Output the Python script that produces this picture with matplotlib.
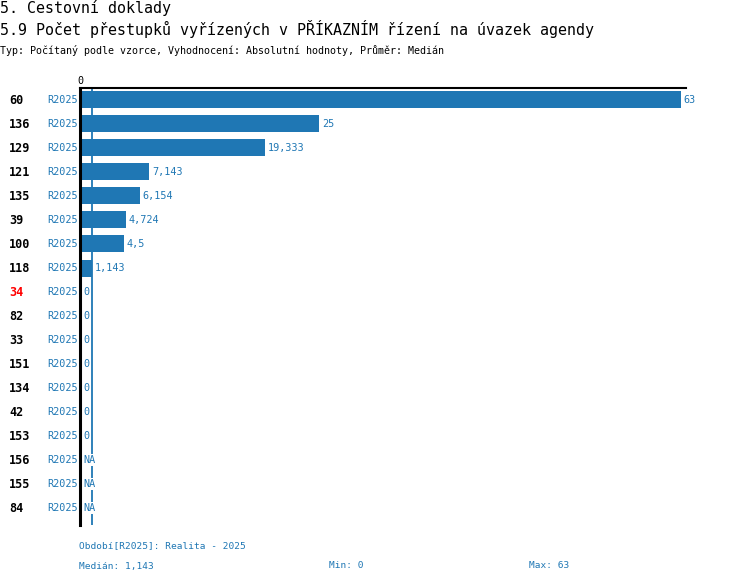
import numpy as np
import matplotlib
matplotlib.use("Agg")
import matplotlib.pyplot as plt

plt.rcParams["font.family"] = ["DejaVu Sans Mono"]

# Row data (top to bottom)
codes = ["60", "136", "129", "121", "135", "39", "100", "118", "34",
         "82", "33", "151", "134", "42", "153", "156", "155", "84"]
values = [63, 25, 19.333, 7.143, 6.154, 4.724, 4.5, 1.143, 0,
          0, 0, 0, 0, 0, 0, np.nan, np.nan, np.nan]
labels = ["63", "25", "19,333", "7,143", "6,154", "4,724", "4,5", "1,143", "0",
          "0", "0", "0", "0", "0", "0", "NA", "NA", "NA"]
highlight = "34"
period = "R2025"
median, vmin, vmax = 1.143, 0, 63

blue = "#1f77b4"
W, H = 750, 584
fig = plt.figure(figsize=(W / 100, H / 100), dpi=100)

def fx(px):
    return px / W

def fy(py):
    return 1 - py / H

# axes: left 81px, right 686px, top 88px, bottom 525px
ax = fig.add_axes([fx(81), fy(525), fx(686 - 81), (525 - 88) / H])
n = len(codes)
ypos = np.arange(n)
ax.set_xlim(0, 63 * 605 / 600)
ax.set_ylim(n - 1 + 17 / 24, -12 / 24)
for s in ax.spines.values():
    s.set_visible(False)
ax.set_xticks([])
ax.set_yticks([])

ax.axvline(median, color=blue, lw=1.3, zorder=1)
vals = np.nan_to_num(np.array(values, dtype=float))
ax.barh(ypos, vals, height=17 / 24, color=blue, zorder=2)

for y, v, lab in zip(ypos, vals, labels):
    ax.text(v + 0.3, y, lab, color=blue, fontsize=7.3, va="center", ha="left",
            zorder=3,
            bbox=dict(facecolor="white", edgecolor="none", pad=0.6) if lab == "NA" else None)

# axis lines
fig.add_artist(plt.Line2D([fx(80), fx(80)], [fy(88), fy(525)], color="black", lw=2.2))
fig.add_artist(plt.Line2D([fx(80), fx(686)], [fy(88), fy(88)], color="black", lw=1.5))
fig.text(fx(80), fy(81), "0", fontsize=7.3, ha="center", va="center")

# row labels
for i, c in enumerate(codes):
    yy = fy(100 + 24 * i)
    fig.text(fx(9), yy, c, fontsize=8.5, fontweight="bold", va="center", ha="left",
             color="red" if c == highlight else "black")
    fig.text(fx(78), yy, period, fontsize=7.3, va="center", ha="right", color=blue)

# titles
fig.text(0, fy(8), "5. Cestovní doklady", fontsize=10.8, va="center", ha="left")
fig.text(0, fy(29), "5.9 Počet přestupků vyřízených v PŘÍKAZNÍM řízení na úvazek agendy",
         fontsize=10.8, va="center", ha="left")
fig.text(0, fy(50), "Typ: Počítaný podle vzorce, Vyhodnocení: Absolutní hodnoty, Průměr: Medián",
         fontsize=7.2, va="center", ha="left")

# footer
fig.text(fx(79), fy(546), "Období[R2025]: Realita - 2025", fontsize=6.8, color=blue, va="center")
fig.text(fx(79), fy(566), "Medián: " + f"{median:.3f}".replace(".", ","), fontsize=6.8,
         color=blue, va="center")
fig.text(fx(329), fy(566), f"Min: {vmin}", fontsize=6.8, color=blue, va="center")
fig.text(fx(529), fy(566), f"Max: {vmax}", fontsize=6.8, color=blue, va="center")

fig.savefig("out.png", dpi=100)
